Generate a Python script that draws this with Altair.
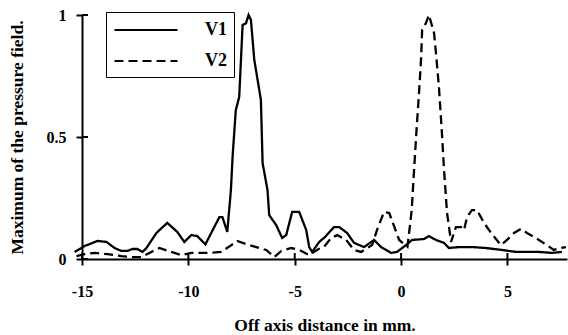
import altair as alt
import pandas as pd

# ---- data ----
series_names = ["V1", "V2"]
x_ticks = [-15, -10, -5, 0, 5]
y_ticks = [0, 0.5, 1]

v1_x = [-15.35, -14.88, -14.27, -13.85, -13.47, -13.15, -12.86, -12.63, -12.39, -12.16,
        -11.97, -11.50, -10.99, -10.52, -10.19, -9.86, -9.58, -9.2, -8.54, -8.40,
        -8.17, -8.0, -7.92, -7.77, -7.61, -7.45, -7.29, -7.17, -7.06, -6.90,
        -6.59, -6.51, -6.28, -6.20, -5.87, -5.59, -5.40, -5.12, -4.79, -4.46,
        -4.32, -4.18, -3.85, -3.6, -3.15, -2.91, -2.54, -2.21, -1.74, -1.27,
        -0.94, -0.47, -0.19, 0.23, 0.52, 1.08, 1.31, 1.64, 2.02, 2.25,
        2.72, 3.33, 3.99, 4.74, 5.40, 6.48, 7.09, 7.56]
v1_y = [0.029, 0.053, 0.074, 0.070, 0.045, 0.033, 0.033, 0.041, 0.041, 0.029,
        0.045, 0.107, 0.148, 0.111, 0.070, 0.098, 0.094, 0.060, 0.172, 0.172,
        0.111, 0.283, 0.42, 0.61, 0.664, 0.959, 0.966, 1.0, 0.98, 0.816,
        0.652, 0.393, 0.283, 0.18, 0.139, 0.086, 0.098, 0.193, 0.193, 0.119,
        0.049, 0.029, 0.070, 0.088, 0.131, 0.131, 0.107, 0.066, 0.049, 0.078,
        0.049, 0.025, 0.029, 0.057, 0.078, 0.082, 0.094, 0.078, 0.066, 0.045,
        0.049, 0.049, 0.045, 0.037, 0.029, 0.029, 0.025, 0.029]

v2_x = [-15.26, -14.88, -14.41, -13.80, -13.15, -12.68, -12.21, -11.74, -11.36, -10.80,
        -10.33, -9.86, -9.39, -9.11, -8.45, -7.98, -7.70, -7.14, -6.34, -5.96,
        -5.63, -5.16, -4.79, -4.32, -3.9, -3.62, -3.29, -3.00, -2.58, -2.21,
        -1.88, -1.36, -1.13, -0.80, -0.56, -0.23, -0.09, 0.30, 0.50, 0.58,
        0.72, 0.85, 0.94, 0.99, 1.17, 1.31, 1.55, 1.64, 1.78, 1.92,
        2.02, 2.16, 2.35, 2.58, 2.82, 2.96, 3.10, 3.33, 3.57, 3.90,
        4.23, 4.69, 4.98, 5.31, 5.63, 5.92, 6.34, 6.85, 7.18, 7.51, 7.75]
v2_y = [0.012, 0.020, 0.025, 0.020, 0.012, 0.008, 0.008, 0.029, 0.045, 0.029,
        0.016, 0.025, 0.025, 0.025, 0.029, 0.057, 0.074, 0.057, 0.037, 0.008,
        0.033, 0.045, 0.037, 0.016, 0.040, 0.050, 0.086, 0.098, 0.078, 0.037,
        0.029, 0.057, 0.119, 0.193, 0.189, 0.111, 0.078, 0.050, 0.20, 0.32,
        0.52, 0.69, 0.82, 0.94, 0.967, 1.0, 0.926, 0.844, 0.705, 0.516,
        0.365, 0.189, 0.070, 0.131, 0.131, 0.119, 0.172, 0.200, 0.200, 0.148,
        0.107, 0.057, 0.078, 0.107, 0.123, 0.107, 0.086, 0.057, 0.037, 0.045, 0.049]

df = pd.concat([
    pd.DataFrame({"x": v1_x, "y": v1_y, "s": series_names[0], "o": range(len(v1_x))}),
    pd.DataFrame({"x": v2_x, "y": v2_y, "s": series_names[1], "o": range(len(v2_x))}),
], ignore_index=True)

W, H = 485, 244
SERIF = "Liberation Serif"
XTITLE = "Off axis distance in mm."
YTITLE = "Maximum of the pressure field."

xscale = alt.Scale(domain=[-15, 7.8], nice=False, zero=False)
yscale = alt.Scale(domain=[0, 1], nice=False, zero=False)

common_axis = dict(
    domain=True, ticks=True, grid=False,
    domainColor="black", domainWidth=2, tickColor="black", tickWidth=2, tickSize=6,
    labelFont=SERIF, labelFontWeight="bold", labelFontSize=16, labelColor="black",
    titleFont=SERIF, titleFontWeight="bold", titleFontSize=17.5, titleColor="black",
)

x_axis = alt.Axis(values=x_ticks, labelExpr="'' + datum.value", labelFlush=False,
                  labelPadding=18, titlePadding=17, **common_axis)
y_axis = alt.Axis(values=y_ticks, format="~g", labelPadding=10, titlePadding=20,
                  labelFlush=False, **common_axis)

lines = alt.Chart(df).mark_line(color="black", strokeWidth=2.3).encode(
    x=alt.X("x:Q", scale=xscale, title=XTITLE, axis=x_axis),
    y=alt.Y("y:Q", scale=yscale, title=YTITLE, axis=y_axis),
    strokeDash=alt.StrokeDash(
        "s:N",
        scale=alt.Scale(domain=series_names, range=[[1, 0], [9, 5]]),
        legend=alt.Legend(title=None, orient="none", legendX=24, legendY=-3,
                          symbolType="M-3.15,0H3.15", symbolSize=400, symbolStrokeWidth=2,
                          symbolOffset=22, labelOffset=48,
                          symbolStrokeColor="black", symbolFillColor="transparent",
                          labelFont=SERIF, labelFontWeight="bold",
                          labelFontSize=18, labelColor="black", padding=7, rowPadding=11,
                          fillColor="white", strokeColor="black"),
    ),
    order="o:Q",
)

ytick_df = pd.DataFrame({"y": y_ticks})
xtick_df = pd.DataFrame({"x": x_ticks})

yticks_in = alt.Chart(ytick_df).mark_rule(color="black", strokeWidth=2).encode(
    y=alt.Y("y:Q", scale=yscale, title=YTITLE, axis=y_axis), x=alt.value(0), x2=alt.value(6))
xticks_in = alt.Chart(xtick_df).mark_rule(color="black", strokeWidth=2).encode(
    x=alt.X("x:Q", scale=xscale, title=XTITLE, axis=x_axis), y=alt.value(H - 6), y2=alt.value(H))

chart = alt.layer(lines, yticks_in, xticks_in).properties(
    width=W, height=H,
    autosize=alt.AutoSizeParams(type="none"),
    padding={"left": 82, "top": 15, "right": 1, "bottom": 76},
    background="white",
).configure_view(stroke=None)

chart.save("out.html", embed_options={"renderer": "svg", "actions": False})
